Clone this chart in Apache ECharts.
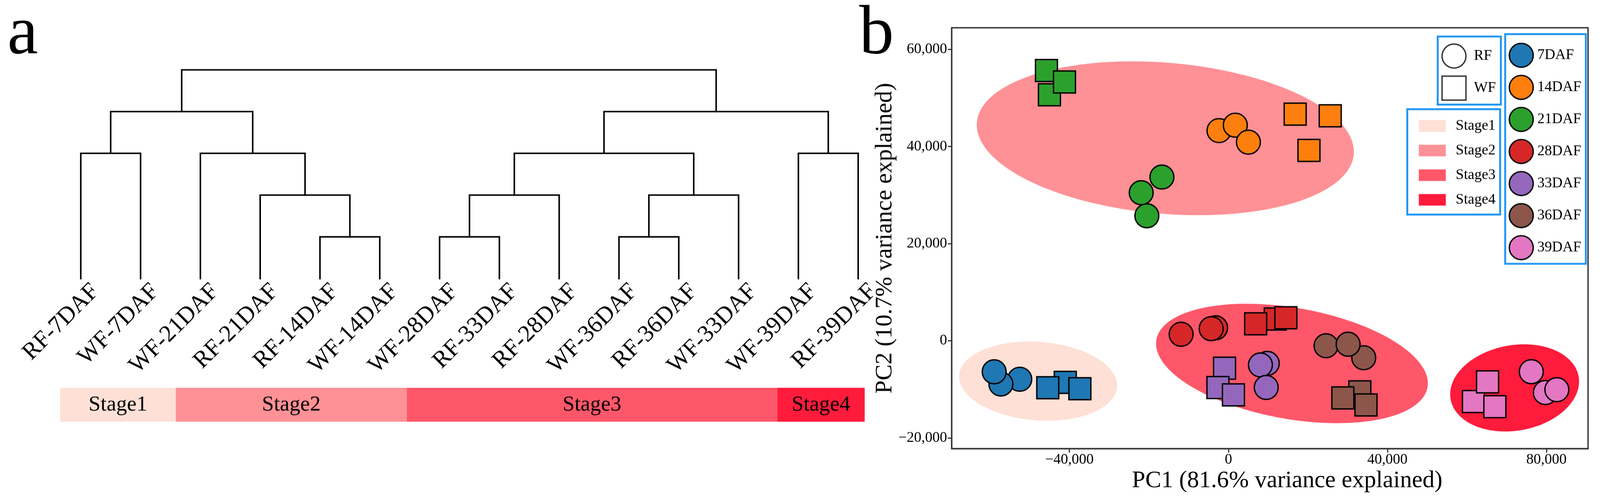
<!DOCTYPE html>
<html><head><meta charset="utf-8">
<script src="https://cdn.jsdelivr.net/npm/echarts@6/dist/echarts.min.js"></script>
<style>html,body{margin:0;padding:0;background:#fff;overflow:hidden;}#c{position:absolute;left:0;top:0;}</style>
</head><body><div id="c"></div>
<script>
// ---------- panel a : dendrogram ----------
const leafLabels = ['RF-7DAF','WF-7DAF','WF-21DAF','RF-21DAF','RF-14DAF','WF-14DAF','WF-28DAF','RF-33DAF','RF-28DAF','WF-36DAF','RF-36DAF','WF-33DAF','WF-39DAF','RF-39DAF'];
// merges: node 14+k joins mergeLeft[k] and mergeRight[k] at mergeHeight[k]
const mergeLeft   = [4, 3, 2, 0, 17, 6, 19, 9, 21, 20, 12, 23, 18];
const mergeRight  = [5, 14, 15, 1, 16, 7, 8, 10, 11, 22, 13, 24, 25];
const mergeHeight = [1, 2, 3, 3, 4, 1, 2, 1, 2, 3, 3, 4, 5];

const stageNames  = ['Stage1','Stage2','Stage3','Stage4'];
const stageStart  = [-0.345, 1.589, 5.451, 11.646];
const stageEnd    = [1.589, 5.451, 11.646, 13.109];
const stageColors = ['#FEE0D6','#FE9196','#FE5769','#FE1B3B'];

// ---------- panel b : PCA ----------
const timePoints = ['7DAF','14DAF','21DAF','28DAF','33DAF','36DAF','39DAF'];
const timeColors = ['#1F77B4','#FF7F0E','#2CA02C','#D62728','#9467BD','#8C564B','#E377C2'];
const RF_7DAF  = [[-52490,-7920],[-57240,-8900],[-58930,-6380]];
const WF_7DAF  = [[-41050,-8560],[-45450,-9670],[-37370,-9860]];
const RF_14DAF = [[-2375,43280],[1727,44390],[5024,40900]];
const WF_14DAF = [[16790,46670],[25610,46330],[20260,39210]];
const RF_21DAF = [[-16730,33720],[-20520,25740],[-21940,30490]];
const WF_21DAF = [[-45780,55650],[-45030,50650],[-41240,53290]];
const RF_28DAF = [[-11900,1350],[-3220,2680],[-4340,2500]];
const WF_28DAF = [[11780,4480],[14450,4750],[6850,3500]];
const RF_33DAF = [[9770,-4650],[8050,-4970],[9510,-9600]];
const WF_33DAF = [[-980,-5630],[-2640,-9630],[1260,-11140]];
const RF_36DAF = [[24560,-1020],[34040,-3490],[30110,-710]];
const WF_36DAF = [[33060,-10510],[28790,-11750],[34610,-13210]];
const RF_39DAF = [[76190,-6360],[79740,-10650],[82620,-10060]];
const WF_39DAF = [[61640,-12500],[65190,-8450],[67030,-13560]];
const RF_groups = [RF_7DAF,RF_14DAF,RF_21DAF,RF_28DAF,RF_33DAF,RF_36DAF,RF_39DAF];
const WF_groups = [WF_7DAF,WF_14DAF,WF_21DAF,WF_28DAF,WF_33DAF,WF_36DAF,WF_39DAF];

// stage ellipses: centre, half-width vector (ux,uy) to the rightmost point, vertical conjugate half-axis vy
const ellipseCX = [-47870, -15880, 15980, 72000];
const ellipseCY = [-8300, 41700, -4665, -9694];
const ellipseUX = [19880, 47430, 34190, 16213];
const ellipseUY = [-922, -2773, -4092, 1319];
const ellipseVY = [8093, 15595, 11591, 8882];

const xTicks = [-40000, 0, 40000, 80000];
const yTicks = [-20000, 0, 20000, 40000, 60000];

const FONT = 'Liberation Serif';

// page scale (layout designed for a 4151 x 1290 viewport)
const VW = window.innerWidth || 4151, VH = window.innerHeight || 1290;
const S = Math.min(VW / 4151, VH / 1290);
const p = v => v * S;

// node positions of the dendrogram
const nodeX = leafLabels.map((_, i) => i);
const nodeH = leafLabels.map(() => 0);
mergeLeft.forEach((l, k) => {
  nodeX.push((nodeX[l] + nodeX[mergeRight[k]]) / 2);
  nodeH.push(mergeHeight[k]);
});

const fmt = v => (v < 0 ? '\u2212' : '') + Math.abs(v).toLocaleString('en-US');

const dom = document.getElementById('c');
dom.style.width = p(4151) + 'px';
dom.style.height = p(1290) + 'px';
const chart = echarts.init(dom, null, {renderer: 'canvas', width: p(4151), height: p(1290)});

const series = [];

// dendrogram
series.push({
  type: 'custom', name: 'dendro', xAxisIndex: 1, yAxisIndex: 0, silent: true,
  data: mergeLeft.map((l, k) => [nodeX[14 + k], mergeHeight[k], k]),
  encode: {x: 0, y: 1},
  renderItem: function (params, api) {
    const k = api.value(2);
    const l = mergeLeft[k], r = mergeRight[k], h = mergeHeight[k];
    const a = api.coord([nodeX[l], nodeH[l]]);
    const b = api.coord([nodeX[l], h]);
    const c = api.coord([nodeX[r], h]);
    const d = api.coord([nodeX[r], nodeH[r]]);
    return {type: 'polyline', shape: {points: [a, b, c, d]},
      style: {stroke: '#000', lineWidth: p(4), fill: null, lineJoin: 'miter', lineCap: 'square'}};
  }
});

// stage bar
series.push({
  type: 'custom', name: 'stagebar', xAxisIndex: 2, yAxisIndex: 1, silent: true,
  data: stageStart.map((s, i) => [s, 0, stageEnd[i], 1, i]),
  encode: {x: [0, 2], y: [1, 3]},
  renderItem: function (params, api) {
    const i = api.value(4);
    const p0 = api.coord([api.value(0), api.value(3)]);
    const p1 = api.coord([api.value(2), api.value(1)]);
    return {type: 'group', children: [
      {type: 'rect', shape: {x: p0[0], y: p0[1], width: p1[0] - p0[0], height: p1[1] - p0[1]},
        style: {fill: stageColors[i]}},
      {type: 'text', style: {text: stageNames[i], x: (p0[0] + p1[0]) / 2, y: (p0[1] + p1[1]) / 2,
        align: 'center', verticalAlign: 'middle', fontSize: p(56), fontFamily: FONT, fill: '#000'}}
    ]};
  }
});

// ellipses
stageNames.forEach((nm, i) => {
  series.push({
    type: 'custom', name: nm, xAxisIndex: 3, yAxisIndex: 2, silent: true, z: 1,
    itemStyle: {color: stageColors[i]},
    data: [[ellipseCX[i], ellipseCY[i], i]],
    encode: {x: 0, y: 1},
    renderItem: function (params, api) {
      const j = api.value(2);
      const pts = [];
      const N = 180;
      for (let n = 0; n < N; n++) {
        const t = 2 * Math.PI * n / N;
        pts.push(api.coord([
          ellipseCX[j] + ellipseUX[j] * Math.cos(t),
          ellipseCY[j] + ellipseUY[j] * Math.cos(t) + ellipseVY[j] * Math.sin(t)
        ]));
      }
      return {type: 'polygon', shape: {points: pts}, style: {fill: stageColors[j]}};
    }
  });
});

// points
timePoints.forEach((tp, i) => {
  series.push({
    type: 'scatter', name: tp, xAxisIndex: 3, yAxisIndex: 2, z: 3,
    symbol: 'circle', symbolSize: p(62),
    itemStyle: {color: timeColors[i], borderColor: '#000', borderWidth: p(3.5), opacity: 1},
    data: RF_groups[i]
  });
  series.push({
    type: 'scatter', name: tp, xAxisIndex: 3, yAxisIndex: 2, z: 3,
    symbol: 'rect', symbolSize: p(57),
    itemStyle: {color: timeColors[i], borderColor: '#000', borderWidth: p(3.5), opacity: 1},
    data: WF_groups[i]
  });
});
series.push({type: 'scatter', name: 'RF', xAxisIndex: 3, yAxisIndex: 2, symbol: 'circle', data: [],
  itemStyle: {color: '#fff', borderColor: '#000', borderWidth: p(3.5)}});
series.push({type: 'scatter', name: 'WF', xAxisIndex: 3, yAxisIndex: 2, symbol: 'rect', data: [],
  itemStyle: {color: '#fff', borderColor: '#000', borderWidth: p(3.5)}});

const legendText = {fontSize: p(38), fontFamily: FONT, color: '#000', lineHeight: p(40)};
const BLUE = '#2196F3';
const noBounds = {outerBoundsMode: 'none', containLabel: false};

const option = {
  animation: false,
  backgroundColor: '#fff',
  title: [
    {text: 'a', left: p(19), top: 0, padding: 0, textStyle: {fontSize: p(180), fontFamily: FONT, fontWeight: 'normal', color: '#000'}},
    {text: 'b', left: p(2229), top: 0, padding: 0, textStyle: {fontSize: p(180), fontFamily: FONT, fontWeight: 'normal', color: '#000'}}
  ],
  grid: [
    Object.assign({left: p(132), width: p(2172), top: p(181), height: p(541)}, noBounds),
    Object.assign({left: p(132), width: p(2172), top: p(1005), height: p(88)}, noBounds),
    Object.assign({left: p(2469), width: p(1651), top: p(72), height: p(1091), show: true,
      borderColor: '#333', borderWidth: p(3.5), backgroundColor: 'transparent'}, noBounds),
    Object.assign({left: p(170), width: p(2172), top: p(181), height: p(541)}, noBounds)
  ],
  xAxis: [
    {type: 'category', gridIndex: 3, data: leafLabels,
      axisLine: {show: false}, axisTick: {show: false}, splitLine: {show: false},
      axisLabel: {interval: 0, rotate: 45, margin: p(24), fontSize: p(62), fontFamily: FONT, color: '#000'}},
    {type: 'value', gridIndex: 0, min: -0.5, max: 13.5, show: false},
    {type: 'value', gridIndex: 1, min: -0.5, max: 13.5, show: false},
    {type: 'value', gridIndex: 2, min: -69624, max: 90473, position: 'bottom',
      name: 'PC1 (81.6% variance explained)', nameLocation: 'middle', nameGap: p(48),
      nameTextStyle: {fontSize: p(62), fontFamily: FONT, color: '#000', padding: [0, 0, 0, p(90)]},
      axisLine: {show: true, onZero: false, lineStyle: {color: '#333', width: p(3.5)}},
      axisTick: {show: true, length: p(10), lineStyle: {color: '#333', width: p(3)}, customValues: xTicks},
      axisLabel: {customValues: xTicks, formatter: fmt, margin: p(10), fontSize: p(38), fontFamily: FONT, color: '#000'},
      splitLine: {show: false}}
  ],
  yAxis: [
    {type: 'value', gridIndex: 0, min: 0, max: 5, show: false},
    {type: 'value', gridIndex: 1, min: 0, max: 1, show: false},
    {type: 'value', gridIndex: 2, min: -22220, max: 64450, position: 'left',
      name: 'PC2 (10.7% variance explained)', nameLocation: 'middle', nameGap: p(119),
      nameTextStyle: {fontSize: p(62), fontFamily: FONT, color: '#000'},
      axisLine: {show: true, onZero: false, lineStyle: {color: '#333', width: p(3.5)}},
      axisTick: {show: true, length: p(10), lineStyle: {color: '#333', width: p(3)}, customValues: yTicks},
      axisLabel: {customValues: yTicks, formatter: fmt, margin: p(12), fontSize: p(38), fontFamily: FONT, color: '#000'},
      splitLine: {show: false}},
    {type: 'value', gridIndex: 3, min: 0, max: 5, show: false}
  ],
  legend: [
    {orient: 'vertical', left: p(3730), top: p(94.6), selectedMode: false,
      padding: [p(18), p(13), p(10), p(9.5)], itemWidth: p(62), itemHeight: p(62), itemGap: p(17.5),
      borderColor: BLUE, borderWidth: p(5), backgroundColor: '#fff',
      textStyle: Object.assign({padding: [0, 0, 0, p(15.5)]}, legendText),
      data: [
        {name: 'RF', icon: 'circle', itemStyle: {color: '#fff', borderColor: '#000', borderWidth: p(3.5)}},
        {name: 'WF', icon: 'rect', itemStyle: {color: '#fff', borderColor: '#000', borderWidth: p(3.5)}}
      ]},
    {orient: 'vertical', left: p(3651), top: p(283), selectedMode: false,
      padding: [p(23.4), p(12), p(18.3), p(30)], itemWidth: p(70), itemHeight: p(30), itemGap: p(23.8),
      borderColor: BLUE, borderWidth: p(5), backgroundColor: '#fff',
      textStyle: Object.assign({padding: [0, 0, 0, p(20.5)]}, legendText),
      data: stageNames.map((nm, i) => ({name: nm, icon: 'rect',
        itemStyle: {color: stageColors[i], borderWidth: 0, borderColor: stageColors[i]}}))},
    {orient: 'vertical', left: p(3905), top: p(88.5), selectedMode: false,
      padding: [p(22.1), p(12), p(9), p(9)], itemWidth: p(62), itemHeight: p(62), itemGap: p(17.6),
      borderColor: BLUE, borderWidth: p(5), backgroundColor: '#fff',
      textStyle: Object.assign({padding: [0, 0, 0, p(5.5)]}, legendText),
      data: timePoints.map((tp, i) => ({name: tp, icon: 'circle',
        itemStyle: {color: timeColors[i], borderColor: '#000', borderWidth: p(3.5)}}))}
  ],
  series: series
};
chart.setOption(option);
</script>
</body></html>
